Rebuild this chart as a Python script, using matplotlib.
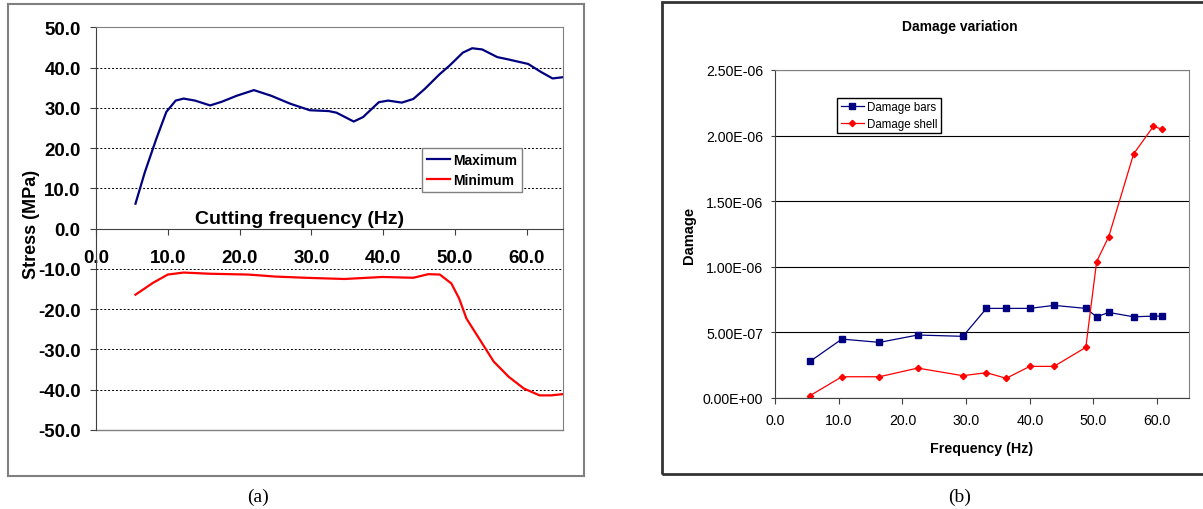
import matplotlib
matplotlib.use("Agg")
import matplotlib.pyplot as plt
from matplotlib.patches import Rectangle
from matplotlib.ticker import FormatStrFormatter, MultipleLocator

plt.rcParams['font.family'] = ['Liberation Sans', 'DejaVu Sans']

# (a) stress vs cutting frequency
freqMax = [5.5, 6.8, 8.4, 9.8, 11.1, 12.2, 13.8, 15.9, 17.5, 19.6, 22.0, 24.4, 27.1, 29.8, 32.4, 33.5,
           35.9, 37.2, 39.4, 40.7, 42.6, 44.2, 45.8, 47.9, 49.2, 51.1, 52.4, 53.8, 55.9, 57.5, 60.2,
           62.0, 63.6, 65.0]
stressMax = [6.2, 14.0, 22.3, 29.0, 31.8, 32.3, 31.8, 30.6, 31.5, 33.0, 34.4, 33.0, 31.0, 29.4, 29.2, 28.8,
             26.6, 27.7, 31.4, 31.8, 31.3, 32.2, 34.7, 38.4, 40.4, 43.7, 44.8, 44.5, 42.6, 42.0, 40.9,
             38.9, 37.3, 37.6]
freqMin = [5.5, 7.9, 10.0, 12.2, 15.9, 21.2, 25.0, 29.2, 34.6, 39.9, 44.2, 46.3, 47.9, 49.5, 50.6,
           51.6, 53.8, 55.4, 57.5, 59.6, 61.8, 63.4, 65.0]
stressMin = [-16.4, -13.5, -11.4, -10.9, -11.2, -11.4, -11.9, -12.2, -12.5, -12.0, -12.2, -11.3, -11.4,
             -13.6, -17.4, -22.3, -28.5, -33.0, -36.8, -39.7, -41.4, -41.4, -41.1]
stressTicks = [-50, -40, -30, -20, -10, 0, 10, 20, 30, 40, 50]

# (b) damage vs frequency
freqDamage = [5.5, 10.5, 16.4, 22.4, 29.5, 33.2, 36.3, 40.0, 43.8, 48.8, 50.5, 52.4, 56.3, 59.4, 60.7]
damageBars = [2.79e-7, 4.49e-7, 4.24e-7, 4.80e-7, 4.70e-7, 6.83e-7, 6.83e-7, 6.83e-7, 7.06e-7, 6.83e-7,
              6.19e-7, 6.52e-7, 6.19e-7, 6.24e-7, 6.24e-7]
damageShell = [1.8e-8, 1.62e-7, 1.62e-7, 2.28e-7, 1.70e-7, 1.93e-7, 1.50e-7, 2.41e-7, 2.41e-7, 3.86e-7,
               1.04e-6, 1.23e-6, 1.86e-6, 2.07e-6, 2.05e-6]

W, H = 1203, 510
fig = plt.figure(figsize=(W / 100, H / 100), dpi=100)

def fx(px):
    return px / W

def fy(py):
    return 1 - py / H

# outer frames
fig.patches.append(Rectangle((fx(8), fy(477)), fx(584 - 8), (477 - 5) / H, transform=fig.transFigure,
                             fill=False, edgecolor='#808080', linewidth=1.5))
fig.patches.append(Rectangle((fx(662), fy(475)), 0.5, (475 - 3) / H, transform=fig.transFigure,
                             fill=False, edgecolor='#333333', linewidth=2))

# ---------------- left chart ----------------
ax = fig.add_axes([fx(96), fy(431), fx(562.6 - 96), (431 - 28.3) / H])
ax.plot(freqMax, stressMax, color='#000080', linewidth=1.6, label='Maximum')
ax.plot(freqMin, stressMin, color='#FF0000', linewidth=1.6, label='Minimum')
ax.set_xlim(0, 65)
ax.set_ylim(-50, 50)
ax.set_yticks(stressTicks)
ax.xaxis.set_major_locator(MultipleLocator(10))
ax.xaxis.set_major_formatter(FormatStrFormatter('%.1f'))
ax.yaxis.set_major_formatter(FormatStrFormatter('%.1f'))
for t in stressTicks:
    if abs(t) not in (0, 50):
        ax.axhline(t, color='black', linewidth=0.7, linestyle=(0, (2, 2)), zorder=0)
ax.spines['bottom'].set_position(('data', 0))
ax.spines['bottom'].set_color('#404040')
ax.spines['left'].set_color('#404040')
ax.spines['top'].set_color('#808080')
ax.spines['right'].set_color('#808080')
ax.axhline(-50, color='#808080', linewidth=1.0, clip_on=False)
ax.tick_params(axis='y', direction='out', length=4, width=0.8, color='#404040', pad=7, labelsize=13.5)
ax.tick_params(axis='x', direction='out', length=4.5, width=0.8, color='#404040', pad=10, labelsize=13.5)
for lbl in ax.get_xticklabels() + ax.get_yticklabels():
    lbl.set_fontweight('bold')
leg = ax.legend(loc='upper left', bbox_to_anchor=(0.698, 0.700), borderaxespad=0, fancybox=False,
                framealpha=1, edgecolor='#808080', prop={'weight': 'bold', 'size': 10},
                handlelength=1.7, handletextpad=0.2, borderpad=0.35, labelspacing=0.45)
leg.get_frame().set_linewidth(1.0)
fig.text(fx(31), fy(224.5), 'Stress (MPa)', rotation=90, ha='center', va='center',
         fontsize=13, fontweight='bold')
fig.text(fx(300), fy(220), 'Cutting frequency (Hz)', ha='center', va='center',
         fontsize=14, fontweight='bold')
fig.text(fx(258), fy(497), '(a)', ha='center', va='center', fontsize=14, family='Liberation Serif')

# ---------------- right chart ----------------
bx = fig.add_axes([fx(775), fy(399), fx(1189 - 775), (399 - 71) / H])
bx.plot(freqDamage, damageBars, color='#000080', linewidth=0.9, marker='s', markersize=4,
        label='Damage bars')
bx.plot(freqDamage, damageShell, color='#FF0000', linewidth=0.9, marker='D', markersize=3.2,
        label='Damage shell')
bx.set_xlim(0, 65)
bx.set_ylim(0, 2.5e-6)
bx.xaxis.set_major_locator(MultipleLocator(10))
bx.xaxis.set_major_formatter(FormatStrFormatter('%.1f'))
bx.yaxis.set_major_locator(MultipleLocator(5e-7))
bx.yaxis.set_major_formatter(FormatStrFormatter('%.2E'))
bx.grid(axis='y', color='black', linewidth=0.8)
bx.set_axisbelow(True)
bx.spines['left'].set_color('#404040')
bx.spines['bottom'].set_color('#404040')
bx.spines['top'].set_color('#808080')
bx.spines['right'].set_color('#808080')
bx.tick_params(axis='y', direction='out', length=3, width=0.8, color='#404040', pad=5.5, labelsize=10.2)
bx.tick_params(axis='x', direction='out', length=4, width=0.8, color='#404040', pad=7, labelsize=10.2)
leg2 = bx.legend(loc='upper left', bbox_to_anchor=(0.150, 0.915), borderaxespad=0, fancybox=False,
                 framealpha=1, edgecolor='black', fontsize=8.3, handlelength=2.0, handletextpad=0.3,
                 borderpad=0.3, labelspacing=0.4)
leg2.get_frame().set_linewidth(1.0)
fig.text(fx(960), fy(27), 'Damage variation', ha='center', va='center', fontsize=10, fontweight='bold')
fig.text(fx(982), fy(449), 'Frequency (Hz)', ha='center', va='center', fontsize=10.3, fontweight='bold')
fig.text(fx(689), fy(235), 'Damage', rotation=90, ha='center', va='center', fontsize=10.5,
         fontweight='bold')
fig.text(fx(960), fy(497), '(b)', ha='center', va='center', fontsize=14, family='Liberation Serif')

fig.savefig('out.png', dpi=100)
